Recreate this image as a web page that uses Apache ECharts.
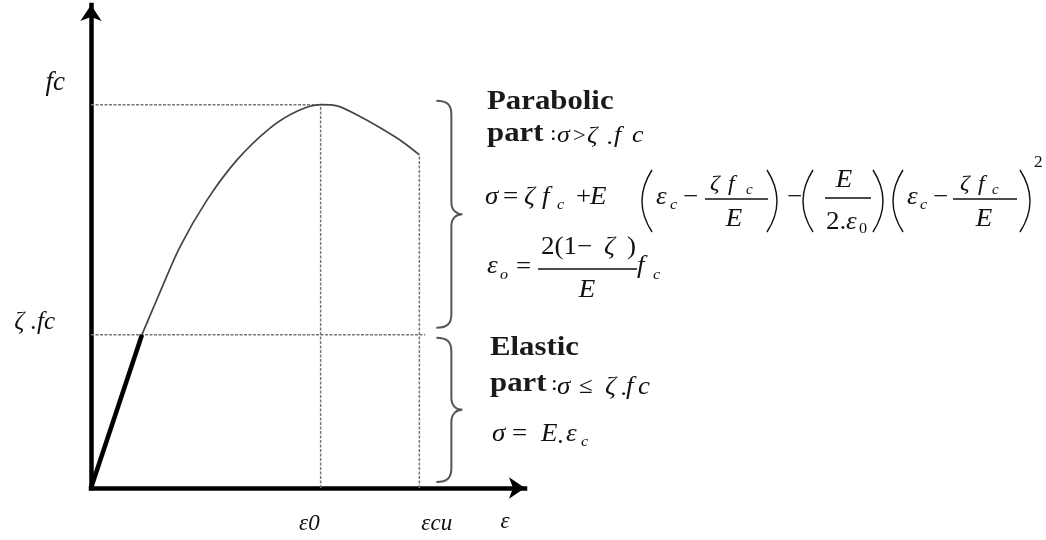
<!DOCTYPE html>
<html>
<head>
<meta charset="utf-8">
<script src="https://cdn.jsdelivr.net/npm/echarts@6/dist/echarts.min.js"></script>
<style>
  html, body { margin: 0; padding: 0; background: #fff; }
  #chart { width: 1046px; height: 540px; }
</style>
</head>
<body>
<div id="chart"></div>
<script>
// Concrete compression model: stress (fraction of fc) against strain (ε0 = 2 units)
const zeta = 0.40;          // ζ : end of the elastic branch, as a fraction of fc
const fcLevel = 1.0;        // peak stress fc
const eps0 = 2.0;           // strain at peak stress
const epsCu = 2.86;         // ultimate strain
const strainMax = 3.78;     // end of the strain axis (arrow)
const stressMax = 1.26;     // end of the stress axis (arrow)

const elasticStrain = [0, 0.444];
const elasticStress = [0, 0.40];

const parabolicStrain = [0.444, 0.584, 0.775, 1.010, 1.272, 1.559, 1.794, 2.0, 2.143, 2.343, 2.544, 2.718, 2.86];
const parabolicStress = [0.40, 0.499, 0.629, 0.751, 0.856, 0.939, 0.983, 1.0, 0.997, 0.969, 0.935, 0.902, 0.869];

const zetaLineEnd = 2.91;   // strain where the ζ·fc guide stops, under the braces

const pairs = (xs, ys) => xs.map((x, i) => [x, ys[i]]);

const chart = echarts.init(document.getElementById('chart'), null, { renderer: 'canvas' });

const guide = { color: '#777', width: 1.5, type: [3, 1.5] };
const guideSeries = (data) => ({
  type: 'line', data, symbol: 'none', silent: true, z: 1,
  lineStyle: guide
});

const axisCommon = {
  type: 'value',
  splitLine: { show: false },
  axisTick: { show: false },
  axisLabel: { show: false },
  axisLine: {
    show: true,
    onZero: false,
    symbol: ['none', 'arrow'],
    symbolSize: [16, 16],
    lineStyle: { color: '#000', width: 4.5, cap: 'square' }
  }
};

chart.setOption({
  backgroundColor: '#fff',
  animation: false,
  grid: { left: 91, right: 521, top: 5, bottom: 52 },
  xAxis: Object.assign({}, axisCommon, { min: 0, max: strainMax }),
  yAxis: Object.assign({}, axisCommon, { min: 0, max: stressMax }),
  series: [
    guideSeries([[0, fcLevel], [eps0, fcLevel]]),
    guideSeries([[eps0, 0], [eps0, fcLevel]]),
    guideSeries([[0, zeta * fcLevel], [zetaLineEnd, zeta * fcLevel]]),
    guideSeries([[epsCu, 0], [epsCu, parabolicStress[parabolicStress.length - 1]]]),
    {
      type: 'line', name: 'parabolic', data: pairs(parabolicStrain, parabolicStress),
      symbol: 'none', smooth: 0.3, z: 3,
      lineStyle: { color: '#444', width: 1.7 }
    },
    {
      type: 'line', name: 'elastic', data: pairs(elasticStrain, elasticStress),
      symbol: 'none', z: 4,
      lineStyle: { color: '#000', width: 4.5 }
    },
    {
      // curly braces grouping the two branches of the law
      type: 'custom', silent: true, z: 5,
      data: [[epsCu, fcLevel, zeta * fcLevel], [epsCu, zeta * fcLevel, 0]],
      encode: { x: 0, y: [1, 2] },
      renderItem(params, api) {
        const top = api.coord([api.value(0), api.value(1)]);
        const bot = api.coord([api.value(0), api.value(2)]);
        const upper = params.dataIndex === 0;
        const x0 = top[0] + 17;
        const yT = top[1] + (upper ? -4 : 3);
        const yB = bot[1] + (upper ? -7 : -6);
        const yM = (yT + yB) / 2;
        const s = x0 + 15, t = x0 + 26;
        const d = `M${x0},${yT} C${x0 + 11},${yT} ${s},${yT + 4} ${s},${yT + 14} ` +
                  `L${s},${yM - 12} C${s},${yM - 4} ${s + 5},${yM} ${t},${yM} ` +
                  `C${s + 5},${yM} ${s},${yM + 4} ${s},${yM + 12} ` +
                  `L${s},${yB - 14} C${s},${yB - 4} ${x0 + 11},${yB} ${x0},${yB}`;
        return {
          type: 'path',
          shape: { pathData: d },
          style: { stroke: '#555', fill: 'none', lineWidth: 2 }
        };
      }
    }
  ]
});

// ---------- text ----------
function T(x, y, s, o = {}) {
  return {
    type: 'text', x, y, scaleX: o.sx || 1.08, silent: true, z: 100,
    style: {
      text: s,
      fontFamily: 'Liberation Serif',
      fontSize: o.size || 25,
      fontStyle: o.it === false ? 'normal' : 'italic',
      fontWeight: o.bold ? 'bold' : 'normal',
      fill: o.fill || '#111',
      align: o.align || 'left',
      verticalAlign: 'middle'
    }
  };
}
const R = (x, y, s, o = {}) => T(x, y, s, Object.assign({ it: false }, o));
const B = (x, y, s) => R(x, y, s, { size: 28, bold: true, sx: 1.1, fill: '#1a1a1a' });
const bar = (x1, x2, y) => ({
  type: 'line', silent: true, z: 100,
  shape: { x1, y1: y, x2, y2: y }, style: { stroke: '#111', lineWidth: 1.3 }
});
const paren = (x, top, bottom, open) => ({
  type: 'bezierCurve', silent: true, z: 100,
  shape: {
    x1: open ? x + 10 : x - 10, y1: top,
    cpx1: open ? x - 10 : x + 10, cpy1: (top + bottom) / 2,
    x2: open ? x + 10 : x - 10, y2: bottom
  },
  style: { stroke: '#111', lineWidth: 1.4, fill: 'none' }
});

const px = (x, y) => chart.convertToPixel({ gridIndex: 0 }, [x, y]);
const pFc = px(0, fcLevel), pZ = px(0, zeta * fcLevel);
const pE0 = px(eps0, 0), pCu = px(epsCu, 0), pEnd = px(strainMax, 0);

const axisText = [
  // stress levels on the vertical axis
  T(pFc[0] - 26, pFc[1] - 22, 'fc', { size: 27, align: 'right', sx: 1 }),
  T(pZ[0] - 36, pZ[1] - 12, 'ζ .fc', { size: 25, align: 'right', sx: 1 }),
  // strains on the horizontal axis
  T(pE0[0] - 1, pE0[1] + 36, 'ε0', { size: 23, align: 'right', sx: 1 }),
  T(pCu[0] + 2, pCu[1] + 36, 'εcu', { size: 23, sx: 1 }),
  T(pEnd[0] - 20, pEnd[1] + 34, 'ε', { size: 23, align: 'center', sx: 1 })
];

const lawText = [
  // parabolic branch
  B(487, 102, 'Parabolic'),
  B(487, 134, 'part'),
  R(550, 134, ':', { size: 22 }),
  T(557, 136, 'σ', { size: 24 }),
  R(573, 136, '>', { size: 21 }),
  T(587, 136, 'ζ', { size: 24 }),
  T(607, 138, '.', { size: 24 }),
  T(614, 136, 'f', { size: 24 }),
  T(632, 136, 'c', { size: 24 }),

  T(485, 197, 'σ'), R(503, 197, '='), T(524, 197, 'ζ'), T(542, 197, 'f'), T(557, 205, 'c', { size: 15 }),
  R(576, 197, '+'), T(590, 197, 'E'),
  T(656, 197, 'ε'), T(670, 205, 'c', { size: 15 }), R(683, 197, '−'),
  T(710, 184, 'ζ', { size: 22 }), T(728, 184, 'f', { size: 22 }), T(746, 190, 'c', { size: 14 }),
  T(734, 219, 'E', { align: 'center' }),
  R(787, 197, '−'),
  T(844, 180, 'E', { align: 'center' }), R(826, 222, '2.'), T(846, 222, 'ε'), R(859, 229, '0', { size: 15 }),
  T(907, 197, 'ε'), T(920, 205, 'c', { size: 15 }), R(933, 197, '−'),
  T(960, 184, 'ζ', { size: 22 }), T(978, 184, 'f', { size: 22 }), T(992, 190, 'c', { size: 14 }),
  T(984, 219, 'E', { align: 'center' }),
  R(1034, 163, '2', { size: 16 }),
  bar(705, 768, 199), bar(825, 871, 198), bar(953, 1017, 199),
  paren(642, 170, 232, true), paren(777, 170, 232, false),
  paren(803, 170, 232, true), paren(883, 170, 232, false),
  paren(893, 170, 232, true), paren(1030, 170, 232, false),

  T(487, 266, 'ε'), T(500, 275, 'o', { size: 15 }), R(516, 267, '='),
  R(541, 247, '2(1−'), T(604, 247, 'ζ'), R(627, 247, ')'),
  bar(538, 637, 269),
  T(587, 290, 'E', { align: 'center' }), T(637, 266, 'f'), T(653, 275, 'c', { size: 15 }),

  // elastic branch
  B(490, 348, 'Elastic'),
  B(490, 384, 'part'),
  R(551, 384, ':', { size: 22 }),
  T(557, 387, 'σ', { size: 25 }), R(579, 387, '≤', { size: 23 }), T(605, 387, 'ζ', { size: 25 }),
  T(621, 389, '.', { size: 24 }), T(626, 387, 'f', { size: 25 }), T(638, 387, 'c', { size: 25 }),
  T(492, 434, 'σ'), R(512, 434, '='), T(541, 434, 'E'), R(557, 436, '.'), T(566, 434, 'ε'),
  T(581, 442, 'c', { size: 15 })
];

chart.setOption({ graphic: { elements: axisText.concat(lawText) } });
</script>
</body>
</html>
